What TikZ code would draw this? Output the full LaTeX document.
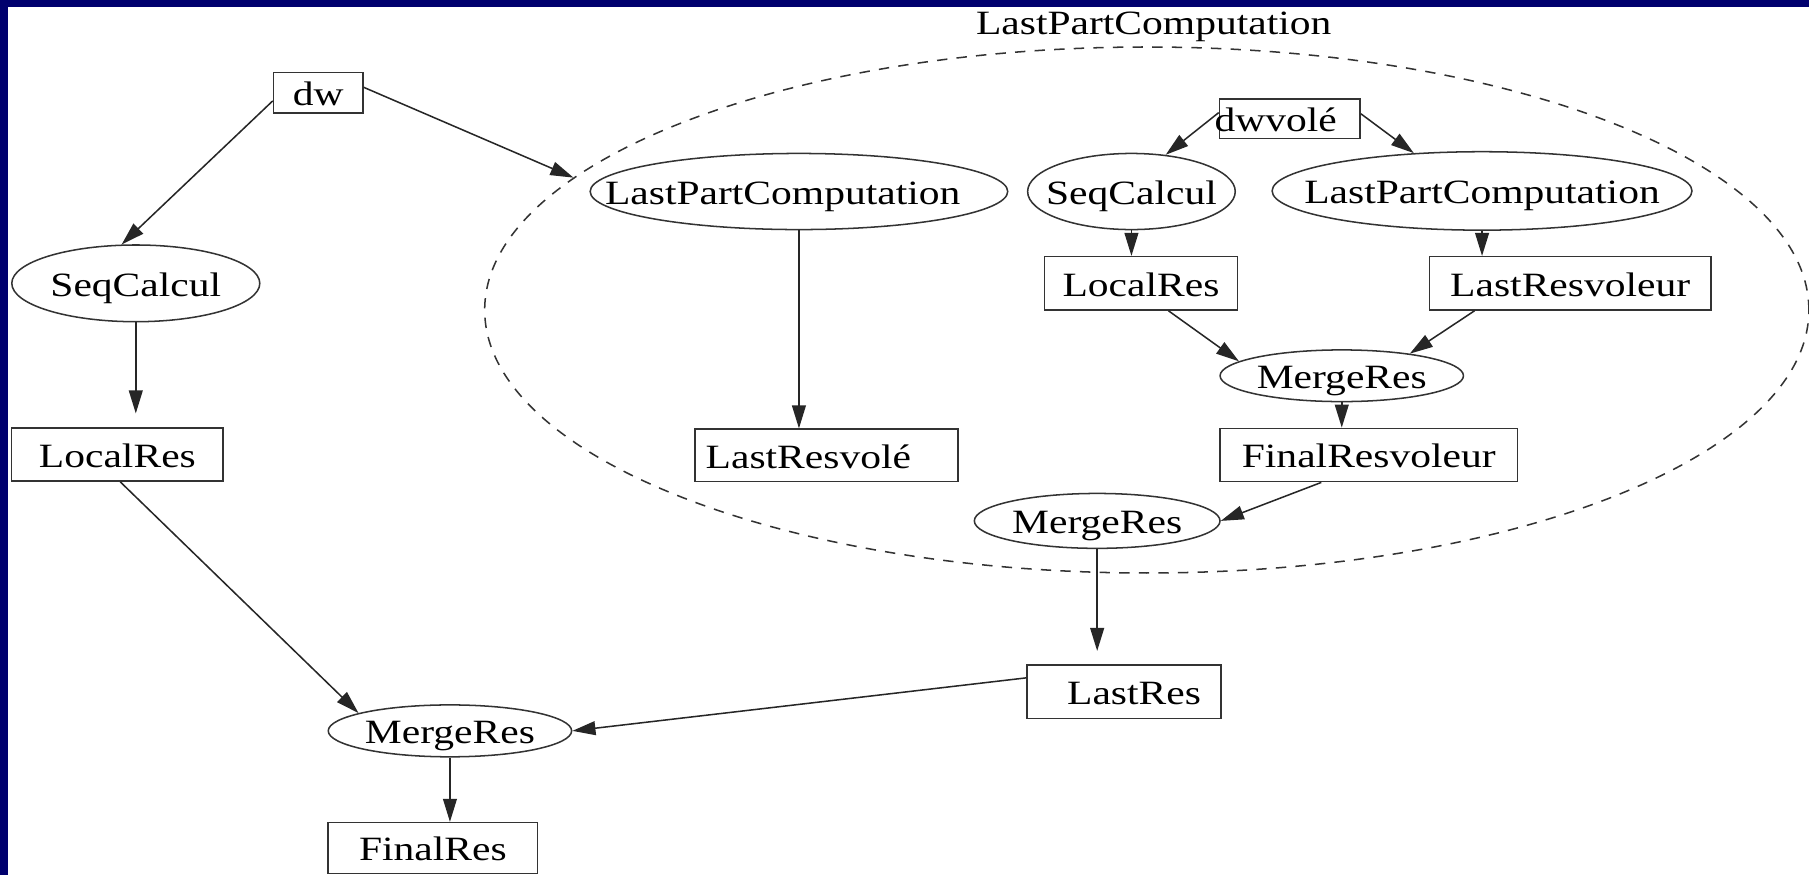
\documentclass[tikz,border=0pt]{standalone}
\usepackage{fontspec}
\usetikzlibrary{arrows.meta,shapes.geometric}
% Times-like face, widened to the proportions of the graph labels
\newfontfamily\graphfont{Liberation Serif}[FakeStretch=1.22]
\definecolor{framenavy}{RGB}{0,0,110}
\begin{document}
\begin{tikzpicture}[x=0.02cm,y=-0.02cm,
  every node/.style={font=\graphfont\fontsize{16.8pt}{20pt}\selectfont,
    inner sep=0pt, text height=14pt, text depth=1.2pt},
  box/.style={draw=black!80, line width=0.75pt, rectangle},
  oval/.style={draw=black!80, line width=0.75pt, ellipse},
  link/.style={draw=black!85, line width=0.75pt,
    -{Triangle[length=0.4cm,width=0.24cm]}},
]
\useasboundingbox (0,0) rectangle (1568,758.4);
\fill[white] (0,0) rectangle (1568,758.4);
\fill[framenavy] (0,0) rectangle (7.3,758.4);
\fill[framenavy] (0,0) rectangle (1568,6.4);

% cluster of the last part computation
\node[draw=black!80, line width=0.75pt, dash pattern=on 0.18cm off 0.16cm,
  ellipse, minimum width=22.96cm, minimum height=9.12cm] (cluster) at (994,268.7) {};
\node[anchor=base] (title) at (1000,30) {LastPartComputation};

% main branch
\node[box, minimum width=1.55cm, minimum height=0.70cm] (dw) at (275.8,80.5) {dw};
\node[oval, minimum width=4.3cm, minimum height=1.33cm] (seqL) at (117.7,245.6) {\makebox[0pt]{SeqCalcul}};
\node[box, minimum width=3.67cm, minimum height=0.92cm] (localL) at (101.75,394) {LocalRes};
\node[oval, minimum width=4.22cm, minimum height=0.90cm] (mergeB) at (390,633.5) {\makebox[0pt]{MergeRes}};
\node[box, minimum width=3.63cm, minimum height=0.88cm] (final) at (375.25,735) {FinalRes};

% inside the cluster
\node[oval, minimum width=7.24cm, minimum height=1.32cm] (lpcL) at (692.5,166) {\makebox[0pt]{\hspace{-16pt}LastPartComputation}};
\node[box, minimum width=4.564cm, minimum height=0.91cm] (lastresvole) at (716.5,394.75) {\hspace{-18pt}LastResvolé};
\node[box, minimum width=2.44cm, minimum height=0.68cm] (dwvole) at (1118,103) {\hspace{-14pt}dwvolé};
\node[oval, minimum width=3.6cm, minimum height=1.32cm] (seqIn) at (980.7,166) {\makebox[0pt]{SeqCalcul}};
\node[oval, minimum width=7.28cm, minimum height=1.36cm] (lpcR) at (1284.6,165.5) {\makebox[0pt]{LastPartComputation}};
\node[box, minimum width=3.344cm, minimum height=0.924cm] (localIn) at (989,245.6) {LocalRes};
\node[box, minimum width=4.88cm, minimum height=0.924cm] (lastresvoleur) at (1361,245.6) {LastResvoleur};
\node[oval, minimum width=4.22cm, minimum height=0.896cm] (mergeIn) at (1163,325.7) {\makebox[0pt]{MergeRes}};
\node[box, minimum width=5.154cm, minimum height=0.924cm] (finalvoleur) at (1186.4,394.4) {FinalResvoleur};
\node[oval, minimum width=4.26cm, minimum height=0.952cm] (mergeMid) at (951,451.5) {\makebox[0pt]{MergeRes}};
\node[box, minimum width=3.368cm, minimum height=0.924cm] (lastres) at (974.2,599.5) {\hspace{10pt}LastRes};

% connectors
\draw[link] (dw.190.9) -- (seqL.110.8);
\draw[link] (dw.7) -- (cluster.167.25);
\draw[link, shorten >=0.24cm] (seqL.south) -- (seqL.south |- localL.north);
\draw[link] (localL.-84) -- (mergeB.169.3);
\draw[link] (mergeB.south) -- (mergeB.south |- final.north);
\draw[link] (lastres.172.3) -- (mergeB.east);
\draw[link] (lpcL.south) -- (lpcL.south |- lastresvole.north);
\draw[link] (dwvole.175.3) -- (seqIn.47.3);
\draw[link] (dwvole.4.7) -- (lpcR.151.2);
\draw[link] (seqIn.south) -- (seqIn.south |- localIn.north);
\draw[link] (lpcR.south) -- (lpcR.south |- lastresvoleur.north);
\draw[link] (localIn.-45.1) -- (mergeIn.172.6);
\draw[link] (lastresvoleur.196.4) -- (mergeIn.18.5);
\draw[link] (mergeIn.south) -- (mergeIn.south |- finalvoleur.north);
\draw[link] (finalvoleur.210.4) -- (mergeMid.east);
\draw[link, shorten >=0.23cm] (mergeMid.south) -- (mergeMid.south |- lastres.north);
\end{tikzpicture}
\end{document}
